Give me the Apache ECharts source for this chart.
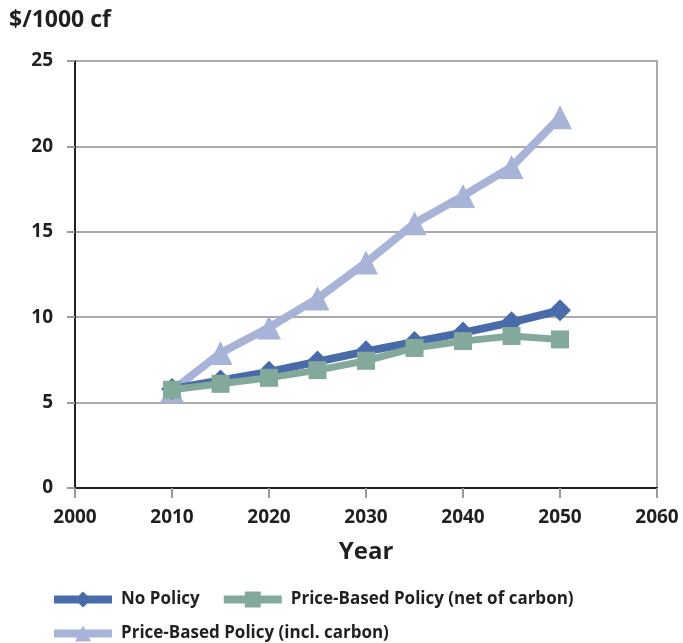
<!DOCTYPE html>
<html><head><meta charset="utf-8">
<script src="https://cdn.jsdelivr.net/npm/echarts@6/dist/echarts.min.js"></script>
<style>html,body{margin:0;padding:0;background:#fff}#c{width:683px;height:643px}</style>
</head><body><div id="c"></div>
<script>
var years = [2010, 2015, 2020, 2025, 2030, 2035, 2040, 2045, 2050];
var noPolicy = [5.8, 6.3, 6.8, 7.4, 8.0, 8.55, 9.1, 9.7, 10.4];
var netCarbon = [5.75, 6.1, 6.45, 6.9, 7.45, 8.2, 8.6, 8.9, 8.7];
var inclCarbon = [5.7, 7.9, 9.4, 11.1, 13.2, 15.5, 17.1, 18.8, 21.7];
var names = ['No Policy', 'Price-Based Policy (net of carbon)', 'Price-Based Policy (incl. carbon)'];
var colors = ['#4a6ba9', '#83a99b', '#a7b4d8'];
function pairs(v){ return years.map(function(y,i){return [y, v[i]];}); }
var font = '"Open Sans", "DejaVu Sans", sans-serif';
var legendText = {fontSize: 17, fontWeight: 'bold', color: '#231f20', fontFamily: font, padding: [0, 0, 0, 4]};
var chart = echarts.init(document.getElementById('c'));
chart.setOption({
  animation: false,
  textStyle: {fontFamily: font},
  title: {text: '$/1000 cf', left: 4, top: 4, textStyle: {fontSize: 23, fontWeight: 'bold', color: '#231f20', fontFamily: font}},
  grid: {left: 75, right: 26, top: 61, bottom: 155},
  legend: [{
    data: [names[0], names[1]], left: 45, top: 586, itemWidth: 58, itemHeight: 20, itemGap: 20,
    lineStyle: {width: 8}, textStyle: legendText
  }, {
    data: [names[2]], left: 45, top: 620, itemWidth: 58, itemHeight: 20,
    lineStyle: {width: 8}, textStyle: legendText
  }],
  xAxis: {
    type: 'value', min: 2000, max: 2060, interval: 10,
    name: 'Year', nameLocation: 'middle', nameGap: 52,
    nameTextStyle: {fontSize: 24, fontWeight: 'bold', color: '#231f20', fontFamily: font},
    axisLine: {lineStyle: {color: '#231f20', width: 2}},
    axisTick: {show: true, length: 10, lineStyle: {color: '#999', width: 2}},
    axisLabel: {fontSize: 19, fontWeight: 'bold', color: '#231f20', margin: 20, fontFamily: font,
      formatter: function(v){ return String(v); }},
    splitLine: {show: false}
  },
  yAxis: [{
    type: 'value', min: 0, max: 25, interval: 5,
    axisLine: {show: true, lineStyle: {color: '#231f20', width: 2}},
    axisTick: {show: true, length: 8, lineStyle: {color: '#999', width: 2}},
    axisLabel: {fontSize: 19, fontWeight: 'bold', color: '#231f20', margin: 22, fontFamily: font},
    splitLine: {show: true, lineStyle: {color: '#aaa', width: 2}}
  }, {
    type: 'value', min: 0, max: 25, interval: 5, position: 'right',
    axisLine: {show: true, lineStyle: {color: '#aaa', width: 2}},
    axisTick: {show: false}, axisLabel: {show: false}, splitLine: {show: false}
  }],
  series: [{
    name: names[2], type: 'line', data: pairs(inclCarbon), symbol: 'triangle', symbolSize: 24,
    lineStyle: {color: colors[2], width: 8}, itemStyle: {color: colors[2]}, z: 2
  }, {
    name: names[0], type: 'line', data: pairs(noPolicy), symbol: 'diamond', symbolSize: 22,
    lineStyle: {color: colors[0], width: 8}, itemStyle: {color: colors[0]}, z: 3
  }, {
    name: names[1], type: 'line', data: pairs(netCarbon), symbol: 'rect', symbolSize: 18,
    lineStyle: {color: colors[1], width: 7}, itemStyle: {color: colors[1]}, z: 4
  }]
});
</script></body></html>
